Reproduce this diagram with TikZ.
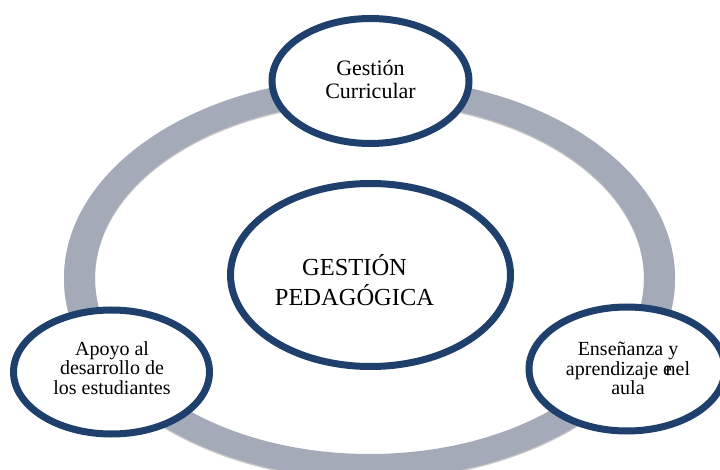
\documentclass[tikz,border=0pt]{standalone}
\usepackage{fontspec}
\setmainfont{Liberation Serif}
\usetikzlibrary{shapes.geometric,shadows}
\definecolor{ringgray}{RGB}{165,170,185}
\definecolor{navy}{RGB}{31,64,108}
\newcommand{\stacklines}[1]{\begin{tabular}{@{}c@{}}#1\end{tabular}}
\tikzset{
  bubble/.style={ellipse, draw=navy, line width=7pt, fill=white, inner sep=0pt,
    drop shadow={shadow xshift=0.5pt, shadow yshift=-2.5pt, fill=black!35, opacity=0.6}},
  bubbletext/.style={inner sep=0pt, text=black, align=center},
  ringfill/.style={fill=ringgray, even odd rule}
}
\begin{document}
\begin{tikzpicture}[x=1pt,y=-1pt]
\path[use as bounding box, clip] (0,0) rectangle (720,470);
\fill[white] (0,0) rectangle (720,470);
% ring shadow and ring
\fill[black!22, even odd rule] (369.5,279.5) ellipse [x radius=305.5, y radius=201]
  (369.5,279.5) ellipse [x radius=274.5, y radius=176];
\path[ringfill] (369.5,278) ellipse [x radius=305.5, y radius=201]
  (369.5,278) ellipse [x radius=274.5, y radius=176];
% bubbles
\node[bubble, minimum width=280pt, minimum height=183pt] (ctr) at (370.5,275) {};
\node[bubble, minimum width=197pt, minimum height=125pt] (top) at (370.5,81) {};
\node[bubble, minimum width=196pt, minimum height=124pt] (left) at (111.5,372) {};
\node[bubble, minimum width=196pt, minimum height=124pt] (right) at (627,369) {};
% texts
\node[bubbletext, font=\fontsize{24.5}{29}\selectfont] (ctr-text) at (354.5,284.5)
  {\stacklines{GESTIÓN\\PEDAGÓGICA}};
\node[bubbletext, font=\fontsize{22}{23}\selectfont] (top-text) at (370.5,82)
  {\stacklines{Gestión\\Curricular}};
\node[bubbletext, font=\fontsize{20}{18.7}\selectfont] (left-text) at (112,370.8)
  {\stacklines{Apoyo al\\desarrollo de\\los estudiantes}};
\node[bubbletext, font=\fontsize{20}{19}\selectfont] (right-text) at (628,371.5)
  {\stacklines{Enseñanza y\\aprendizaje e\kern-0.32em nel\\aula}};
\end{tikzpicture}
\end{document}
